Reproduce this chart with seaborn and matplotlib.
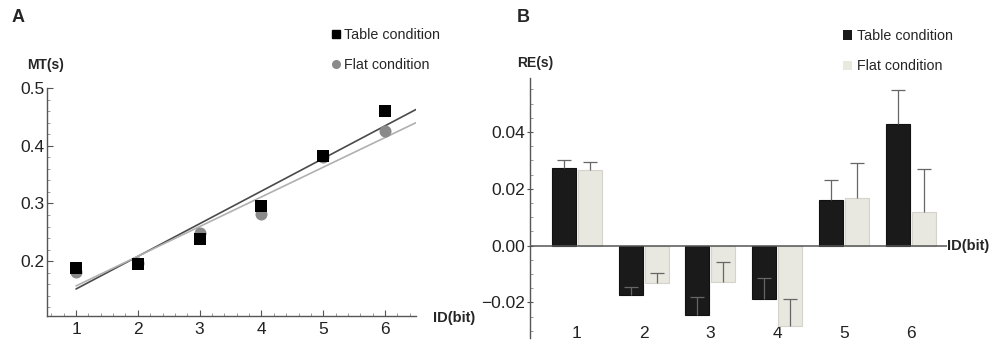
import numpy as np
import pandas as pd
import matplotlib
matplotlib.use("Agg")
import matplotlib.pyplot as plt
from matplotlib.lines import Line2D
from matplotlib.patches import Patch
from matplotlib.ticker import MultipleLocator
import seaborn as sns

# ---------------- data ----------------
ids = [1, 2, 3, 4, 5, 6]
conditions = ["Table condition", "Flat condition"]
mt_table = [0.188, 0.195, 0.238, 0.296, 0.382, 0.460]
mt_flat = [0.182, 0.196, 0.249, 0.282, 0.380, 0.425]
re_table = [0.0275, -0.0174, -0.0244, -0.0187, 0.0161, 0.0429]
re_flat = [0.0267, -0.0133, -0.0129, -0.0283, 0.0167, 0.0120]
err_table = [0.0027, 0.0028, 0.0065, 0.0072, 0.0071, 0.0119]
err_flat = [0.0026, 0.0036, 0.0070, 0.0094, 0.0124, 0.0149]
y_ticks_a = [0.2, 0.3, 0.4, 0.5]
y_ticks_b = [-0.02, 0.00, 0.02, 0.04]

sns.set_theme(style="white")
plt.rcParams["font.family"] = ["Liberation Sans", "DejaVu Sans"]

W, H = 991, 344
fig = plt.figure(figsize=(W / 100, H / 100), dpi=100)

def fx(px):
    return px / W

def fy(py):
    return 1 - py / H

spine_c = "#555555"
c_table = "#000000"
c_flat_pt = "#8a8a8a"
c_bar_table = "#1a1a1a"
c_bar_flat = "#e9e9df"

# ---------------- Panel A ----------------
axA = fig.add_axes([fx(47), fy(316), fx(416) - fx(47), fy(88) - fy(316)])
dfA = pd.DataFrame({
    "id": ids * 2,
    "mt": mt_table + mt_flat,
    "cond": [conditions[0]] * 6 + [conditions[1]] * 6,
})
sns.scatterplot(data=dfA[dfA.cond == conditions[1]], x="id", y="mt", ax=axA,
                color=c_flat_pt, marker="o", s=75, linewidth=0, legend=False, zorder=3)
sns.scatterplot(data=dfA[dfA.cond == conditions[0]], x="id", y="mt", ax=axA,
                color=c_table, marker="s", s=68, linewidth=0, legend=False, zorder=4)

x_end = 6.5
xs = np.array([ids[0], x_end])
for vals, col in [(mt_table, "#4a4a4a"), (mt_flat, "#b0b0b0")]:
    k, b = np.polyfit(ids, vals, 1)
    axA.plot(xs, k * xs + b, color=col, lw=1.2, zorder=2)

axA.set_xlim(0.53, x_end)
axA.set_ylim(0.105, 0.5)
axA.set_xticks(ids)
axA.set_yticks(y_ticks_a)
axA.set_yticklabels([f"{v:.1f}" for v in y_ticks_a])
axA.xaxis.set_minor_locator(MultipleLocator(0.2))
axA.yaxis.set_minor_locator(MultipleLocator(0.02))
axA.set_xlabel("")
axA.set_ylabel("")
for s in ["top", "right"]:
    axA.spines[s].set_visible(False)
for s in ["left", "bottom"]:
    axA.spines[s].set_color(spine_c)
    axA.spines[s].set_linewidth(1.0)
axA.tick_params(axis="both", which="major", direction="in", length=4, width=0.8,
                color=spine_c, labelsize=12.5, labelcolor="#222222", left=True, bottom=True)
axA.tick_params(axis="both", which="minor", direction="in", length=2, width=0.6,
                color="#888888", left=True, bottom=True)
axA.tick_params(axis="x", which="major", pad=4)
axA.tick_params(axis="y", which="major", pad=2)

fig.text(fx(12), fy(18), "A", fontsize=13, fontweight="bold", va="center", ha="left")
fig.text(fx(27), fy(65), "MT(s)", fontsize=10, fontweight="bold", va="center", ha="left")
fig.text(fx(433), fy(318), "ID(bit)", fontsize=10.5, fontweight="bold", va="center", ha="left")

hA = [Line2D([], [], marker="s", color=c_table, ls="none", markersize=6),
      Line2D([], [], marker="o", color=c_flat_pt, ls="none", markersize=5.5)]
fig.legend(hA, conditions, loc="upper left", bbox_to_anchor=(fx(330), fy(28)),
           frameon=False, fontsize=10.3, handlelength=0.8, handletextpad=0.2,
           labelspacing=1.15, borderpad=0, borderaxespad=0)

# ---------------- Panel B ----------------
axB = fig.add_axes([fx(530), fy(338), fx(947) - fx(530), fy(78) - fy(338)])
dfB = pd.DataFrame({
    "id": ids * 2,
    "re": re_table + re_flat,
    "err": err_table + err_flat,
    "cond": [conditions[0]] * 6 + [conditions[1]] * 6,
})
sns.barplot(data=dfB, x="id", y="re", hue="cond", hue_order=conditions,
            palette=[c_bar_table, c_bar_flat], width=0.78, gap=0.08,
            errorbar=None, ax=axB, legend=False, zorder=2)

edge_cols = ["#111111", "#d4d4ca"]
errs = [err_table, err_flat]
bar_conts = list(axB.containers)
for ci, cont in enumerate(bar_conts):
    for j, bar in enumerate(cont):
        bar.set_edgecolor(edge_cols[ci])
        bar.set_linewidth(0.8)
        cx = bar.get_x() + bar.get_width() / 2
        v = bar.get_y() + bar.get_height()
        _, caps, _ = axB.errorbar([cx], [v], yerr=[[0], [errs[ci][j]]], fmt="none",
                                  ecolor="#666666", elinewidth=0.9, capsize=5,
                                  capthick=0.9, zorder=3)
        if len(caps) == 2:
            caps[0].set_visible(False)

axB.set_xlim(-0.70, 5.54)
axB.set_ylim(-0.0325, 0.059)
axB.axhline(0, color=spine_c, lw=1.1, zorder=4)
axB.set_yticks(y_ticks_b)
axB.set_yticklabels([f"{v:.2f}".replace("-", "\u2212") if v < 0 else f"{v:.2f}" for v in y_ticks_b])
axB.yaxis.set_minor_locator(MultipleLocator(0.005))
axB.set_xlabel("")
axB.set_ylabel("")
for s in ["top", "right", "bottom"]:
    axB.spines[s].set_visible(False)
axB.spines["left"].set_color(spine_c)
axB.spines["left"].set_linewidth(1.0)
axB.tick_params(axis="y", which="major", direction="inout", length=5, width=0.8,
                color=spine_c, labelsize=12.5, labelcolor="#222222", left=True, pad=1)
axB.tick_params(axis="y", which="minor", direction="in", length=2.5, width=0.6,
                color="#888888", left=True)
axB.tick_params(axis="x", which="both", length=0, labelsize=12.5, labelcolor="#222222", pad=-9)

fig.text(fx(517), fy(63), "RE(s)", fontsize=10, fontweight="bold", va="center", ha="left")
fig.text(fx(947), fy(246), "ID(bit)", fontsize=10.5, fontweight="bold", va="center", ha="left")
fig.text(fx(517), fy(18), "B", fontsize=13, fontweight="bold", va="center", ha="left")

hB = [Patch(facecolor=c_bar_table, edgecolor="none"),
      Patch(facecolor=c_bar_flat, edgecolor="none")]
fig.legend(hB, conditions, loc="upper left", bbox_to_anchor=(fx(843), fy(29)),
           frameon=False, fontsize=10.3, handlelength=0.65, handleheight=0.65,
           handletextpad=0.35, labelspacing=1.15, borderpad=0, borderaxespad=0)

fig.savefig("out.png", dpi=100)
